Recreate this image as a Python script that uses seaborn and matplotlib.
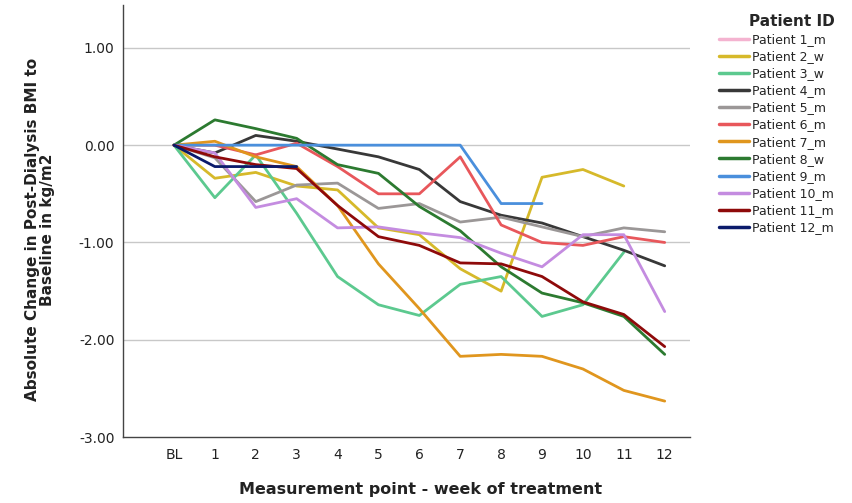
import numpy as np
import pandas as pd
import matplotlib
matplotlib.use("Agg")
import matplotlib.pyplot as plt
import seaborn as sns

# Measurement points (BL = baseline, then weeks of treatment)
weeks = ["BL", "1", "2", "3", "4", "5", "6", "7", "8", "9", "10", "11", "12"]

patients = ["Patient 1_m", "Patient 2_w", "Patient 3_w", "Patient 4_m",
            "Patient 5_m", "Patient 6_m", "Patient 7_m", "Patient 8_w",
            "Patient 9_m", "Patient 10_m", "Patient 11_m", "Patient 12_m"]

# Absolute change in post-dialysis BMI vs. baseline (kg/m2), per patient
p1 = [0.00]
p2 = [0.00, -0.34, -0.28, -0.42, -0.46, -0.85, -0.92, -1.27, -1.50, -0.33, -0.25, -0.42]
p3 = [0.00, -0.54, -0.10, -0.70, -1.35, -1.64, -1.75, -1.43, -1.35, -1.76, -1.64, -1.10]
p4 = [0.00, -0.08, 0.10, 0.04, -0.04, -0.12, -0.25, -0.58, -0.72, -0.80, -0.94, -1.08, -1.24]
p5 = [0.00, -0.13, -0.58, -0.41, -0.39, -0.65, -0.60, -0.79, -0.74, -0.84, -0.94, -0.85, -0.89]
p6 = [0.00, 0.00, -0.10, 0.02, -0.22, -0.50, -0.50, -0.12, -0.82, -1.00, -1.03, -0.94, -1.00]
p7 = [0.00, 0.04, -0.12, -0.22, -0.62, -1.22, -1.68, -2.17, -2.15, -2.17, -2.30, -2.52, -2.63]
p8 = [0.00, 0.26, 0.17, 0.07, -0.20, -0.29, -0.63, -0.88, -1.25, -1.52, -1.62, -1.76, -2.15]
p9 = [0.00, 0.00, 0.00, 0.00, 0.00, 0.00, 0.00, 0.00, -0.60, -0.60]
p10 = [0.00, -0.08, -0.64, -0.55, -0.85, -0.84, -0.90, -0.95, -1.11, -1.25, -0.92, -0.92, -1.71]
p11 = [0.00, -0.12, -0.20, -0.24, -0.62, -0.94, -1.03, -1.21, -1.22, -1.35, -1.61, -1.74, -2.07]
p12 = [0.00, -0.22, -0.22, -0.22]

series = [p1, p2, p3, p4, p5, p6, p7, p8, p9, p10, p11, p12]

colors = ["#f4b3d0", "#d6b92a", "#5cc98f", "#383838", "#9b9797", "#e8575b",
          "#e0961e", "#2c7a30", "#4a8fdc", "#c48ce0", "#8e0a0a", "#0b1b6b"]

rows = []
for name, vals in zip(patients, series):
    for i, v in enumerate(vals):
        rows.append({"week": i, "change": v, "patient": name})
df = pd.DataFrame(rows)

sns.set_theme(style="white")
plt.rcParams["font.family"] = ["DejaVu Sans"]

fig = plt.figure(figsize=(8.53, 5.03), dpi=100)
ax = fig.add_axes([0.144, 0.131, 0.665, 0.859])

sns.lineplot(data=df, x="week", y="change", hue="patient", hue_order=patients,
             palette=colors, linewidth=2.0, errorbar=None, ax=ax, legend=True)

ax.set_xlim(-1.25, 12.62)
ax.set_ylim(-3.0, 1.44)
ax.set_yticks([1, 0, -1, -2, -3])
ax.set_yticklabels(["1.00", "0.00", "-1.00", "-2.00", "-3.00"])
ax.set_xticks(range(len(weeks)))
ax.set_xticklabels(weeks)
ax.tick_params(axis="both", length=0, labelsize=10, colors="#222222")
ax.tick_params(axis="x", pad=8)
ax.tick_params(axis="y", pad=6)

for y in [1, 0, -1, -2]:
    ax.axhline(y, color="#c8c8c8", linewidth=1.0, zorder=0)

for side in ["top", "right"]:
    ax.spines[side].set_visible(False)
for side in ["left", "bottom"]:
    ax.spines[side].set_color("#444444")
    ax.spines[side].set_linewidth(1.0)

ax.set_xlabel("Measurement point - week of treatment", fontsize=11.5,
              fontweight="bold", color="#222222")
ax.xaxis.set_label_coords(0.525, -0.105)
ax.set_ylabel("Absolute Change in Post-Dialysis BMI to\nBaseline in kg/m2",
              fontsize=11, fontweight="bold", color="#222222",
              linespacing=0.95)
ax.yaxis.set_label_coords(-0.12, 0.48)

handles, labels = ax.get_legend_handles_labels()
for h in handles:
    h.set_linewidth(2.5)
leg = ax.legend(handles, labels, title="Patient ID", loc="upper left",
                bbox_to_anchor=(1.035, 1.0), frameon=False, fontsize=9,
                title_fontproperties={"weight": "bold", "size": 11},
                handlelength=2.4, handletextpad=0.3, labelspacing=0.33,
                borderaxespad=0.3)
leg._legend_box.align = "right"

fig.savefig("out.png", dpi=100)
